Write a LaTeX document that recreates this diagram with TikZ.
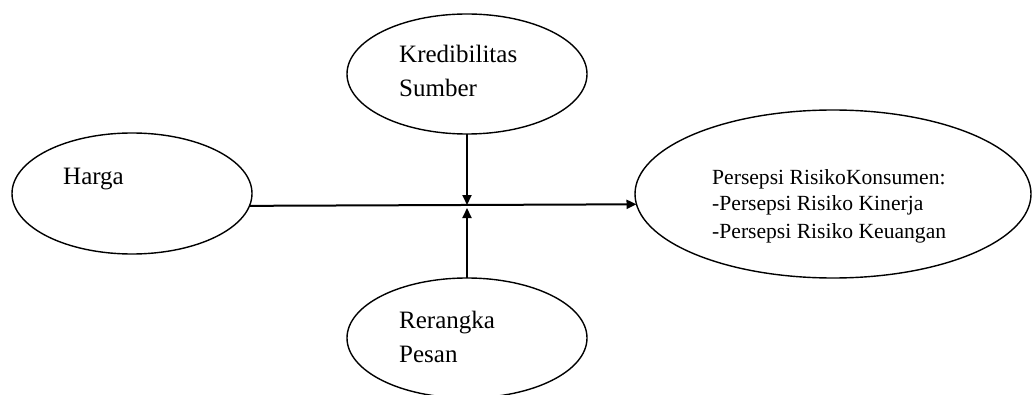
\documentclass[tikz,border=0pt]{standalone}
\usepackage{fontspec}
\setmainfont{Liberation Serif}
\usetikzlibrary{shapes.geometric,arrows.meta}
\begin{document}
\begin{tikzpicture}[x=1pt,y=1pt,
  oval/.style={draw,ellipse,line width=1.4pt,inner sep=0pt,outer sep=0pt},
  lbl/.style={anchor=base west,inner sep=0pt,font=\fontsize{25}{30}\selectfont},
  slbl/.style={anchor=base west,inner sep=0pt,font=\fontsize{21.6}{26}\selectfont},
  conn/.style={line width=2pt,-{Triangle[length=10pt,width=9pt]}}]
\useasboundingbox (0,0) rectangle (1032,394);
\fill[white] (0,0) rectangle (1032,394);
\node[oval,minimum width=240pt,minimum height=121pt] (harga) at (132,200.5) {};
\node[oval,minimum width=240pt,minimum height=120pt] (kred) at (467,320) {};
\node[oval,minimum width=240pt,minimum height=120pt] (rer) at (467,56) {};
\node[oval,minimum width=396pt,minimum height=168pt] (pers) at (833,200) {};
\node[lbl] (t1) at (63,210) {Harga};
\node[lbl] (t2) at (399,331) {Kredibilitas};
\node[lbl] (t3) at (399,297) {Sumber};
\node[lbl] (t4) at (399,66) {Rerangka};
\node[lbl] (t5) at (399,32) {Pesan};
\node[slbl] (t6) at (712,209) {Persepsi RisikoKonsumen:};
\node[slbl] (t7) at (712,184) {-Persepsi Risiko Kinerja};
\node[slbl] (t8) at (712,156) {-Persepsi Risiko Keuangan};
\coordinate (tipd) at (467,189);
\coordinate (tipu) at (467,186);
\draw[conn] (harga.-6.3) -- (pers.183.5);
\draw[conn] (kred.south) -- (tipd);
\draw[conn] (rer.north) -- (tipu);
\end{tikzpicture}
\end{document}
